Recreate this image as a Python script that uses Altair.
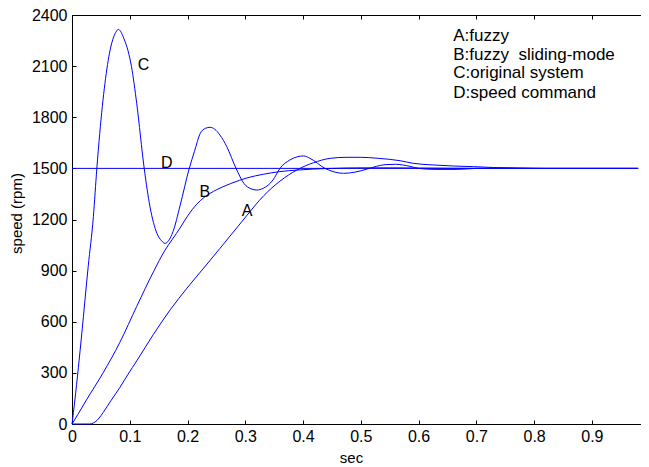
import altair as alt
import pandas as pd

# ---- data ----
a_t = [0, 0.030, 0.034, 0.040, 0.047, 0.054, 0.068, 0.083, 0.097, 0.112, 0.141, 0.170, 0.199,
       0.228, 0.256, 0.285, 0.303, 0.332, 0.360, 0.389, 0.404, 0.418, 0.447, 0.476, 0.50, 0.53,
       0.568, 0.59, 0.625, 0.66, 0.695, 0.73, 0.77, 0.82, 0.90, 0.98]
a_v = [0, 0, 2, 12, 35, 68, 140, 215, 292, 370, 526, 670, 797,
       915, 1030, 1150, 1225, 1340, 1425, 1490, 1515, 1533, 1559, 1565, 1565, 1559,
       1545, 1530, 1520, 1514, 1510, 1505, 1502, 1500, 1500, 1500]

b_t = [0, 0.010, 0.025, 0.054, 0.083, 0.112, 0.141, 0.161, 0.174, 0.187, 0.200, 0.216, 0.230,
       0.245, 0.260, 0.274, 0.290, 0.303, 0.332, 0.360, 0.389, 0.418, 0.45, 0.50, 0.55,
       0.60, 0.70, 0.98]
b_v = [0, 55, 141, 301, 480, 690, 893, 1020, 1085, 1150, 1220, 1290, 1333,
       1365, 1390, 1410, 1430, 1444, 1466, 1481, 1490, 1496, 1500, 1503, 1503,
       1502, 1500, 1500]

c_t = [0, 0.005, 0.011, 0.017, 0.028, 0.037, 0.043, 0.048, 0.057, 0.066, 0.072, 0.077, 0.080,
       0.084, 0.090, 0.097, 0.103, 0.112, 0.125, 0.135, 0.147, 0.155, 0.161, 0.167, 0.175,
       0.187, 0.203, 0.212, 0.222, 0.231, 0.239, 0.247, 0.256, 0.268, 0.284, 0.298, 0.310,
       0.320, 0.331, 0.348, 0.360, 0.377, 0.390, 0.401, 0.412, 0.438, 0.455, 0.470, 0.49,
       0.51, 0.527, 0.542, 0.56, 0.585, 0.60, 0.63, 0.667, 0.70, 0.75, 0.80, 0.90, 0.98]
c_v = [0, 141, 330, 533, 923, 1216, 1500, 1705, 1998, 2195, 2270, 2305, 2316,
       2305, 2260, 2190, 2097, 1882, 1500, 1275, 1119, 1075, 1060, 1075, 1130,
       1280, 1500, 1600, 1705, 1735, 1741, 1730, 1696, 1627, 1500, 1410, 1380,
       1373, 1383, 1432, 1500, 1549, 1568, 1573, 1559, 1500, 1478, 1471, 1478,
       1495, 1512, 1522, 1524, 1512, 1500, 1494, 1494, 1500, 1502, 1500, 1500, 1500]

d_t = [0, 0.98]
d_v = [1500, 1500]

curve_labels = ["C", "D", "B", "A"]
curve_label_t = [0.124, 0.164, 0.230, 0.303]
curve_label_v = [2107, 1533, 1363, 1252]

legend_lines = ["A:fuzzy", "B:fuzzy\u00a0\u00a0sliding-mode", "C:original system", "D:speed command"]
legend_t = [0.66, 0.66, 0.66, 0.66]
legend_v = [2277, 2165, 2060, 1942]

x_ticks = [0, 0.1, 0.2, 0.3, 0.4, 0.5, 0.6, 0.7, 0.8, 0.9]
y_ticks = [0, 300, 600, 900, 1200, 1500, 1800, 2100, 2400]

assert len(a_t) == len(a_v) and len(b_t) == len(b_v) and len(c_t) == len(c_v)

rows = []
for name, ts, vs in (("A", a_t, a_v), ("B", b_t, b_v), ("C", c_t, c_v)):
    rows += [{"series": name, "t": t, "v": v} for t, v in zip(ts, vs)]
curves = pd.DataFrame(rows)
dline = pd.DataFrame({"series": "D", "t": d_t, "v": d_v})
labels_df = pd.DataFrame({"txt": curve_labels, "t": curve_label_t, "v": curve_label_v})
legend_df = pd.DataFrame({"txt": legend_lines, "t": legend_t, "v": legend_v})

FONT = "Liberation Sans"
BLUE = "#0000ff"
# plot spans 0 .. 0.985 s so that the page is not wider than the window
xs = alt.Scale(domain=[0, 0.985], nice=False, zero=False)
ys = alt.Scale(domain=[0, 2400], nice=False)
inward = alt.ExprRef(expr="-4")

bottom_axis = alt.Axis(values=x_ticks, title="sec", grid=False, tickSize=inward,
                       labelPadding=8, labelFontSize=16, titleFontSize=15,
                       titleFontWeight="normal", labelColor="black", titleColor="black",
                       domainColor="black", tickColor="black", labelFlush=False,
                       labelOverlap=False, titleX=279, titleY=33, titleBaseline="middle",
                       labelExpr="datum.value == 0 ? '0' : format(datum.value, '.1f')")
left_axis = alt.Axis(values=y_ticks, title="speed (rpm)", grid=False, tickSize=inward,
                     labelPadding=9, labelFontSize=16, titleFontSize=15,
                     titleFontWeight="normal", labelColor="black", titleColor="black",
                     domainColor="black", tickColor="black", format="d", labelFlush=False,
                     labelOverlap=False, titleX=-56, titleY=198, titleBaseline="middle")
top_axis = alt.Axis(orient="top", values=x_ticks, title=None, labels=False, grid=False,
                    tickSize=inward, domainColor="black", tickColor="black")

lines = alt.Chart(curves).mark_line(color=BLUE, strokeWidth=1, interpolate="monotone").encode(
    x=alt.X("t:Q", scale=xs, axis=bottom_axis),
    y=alt.Y("v:Q", scale=ys, axis=left_axis),
    detail="series:N",
    order="t:Q",
)

d_layer = alt.Chart(dline).mark_line(color=BLUE, strokeWidth=1).encode(
    x=alt.X("t:Q", scale=xs, axis=top_axis),
    y=alt.Y("v:Q", scale=ys, axis=None),
)

curve_text = alt.Chart(labels_df).mark_text(font=FONT, fontSize=16, color="black",
                                            align="center", baseline="middle").encode(
    x=alt.X("t:Q", scale=xs, axis=None),
    y=alt.Y("v:Q", scale=ys, axis=None),
    text="txt:N",
)

legend_text = alt.Chart(legend_df).mark_text(font=FONT, fontSize=17, color="black",
                                             align="left", baseline="middle").encode(
    x=alt.X("t:Q", scale=xs, axis=None),
    y=alt.Y("v:Q", scale=ys, axis=None),
    text="txt:N",
)

chart = alt.layer(lines, d_layer, curve_text, legend_text).resolve_axis(
    x="independent", y="independent"
).properties(
    width=569, height=409,
    autosize=alt.AutoSizeParams(type="none"),
    padding={"left": 64, "top": 7, "right": 0, "bottom": 40},
    background="white",
).configure_view(stroke=None).configure_axis(
    labelFont=FONT, titleFont=FONT, domainWidth=1, tickWidth=1
)

chart.save("out.html", embed_options={"renderer": "svg", "actions": False})
